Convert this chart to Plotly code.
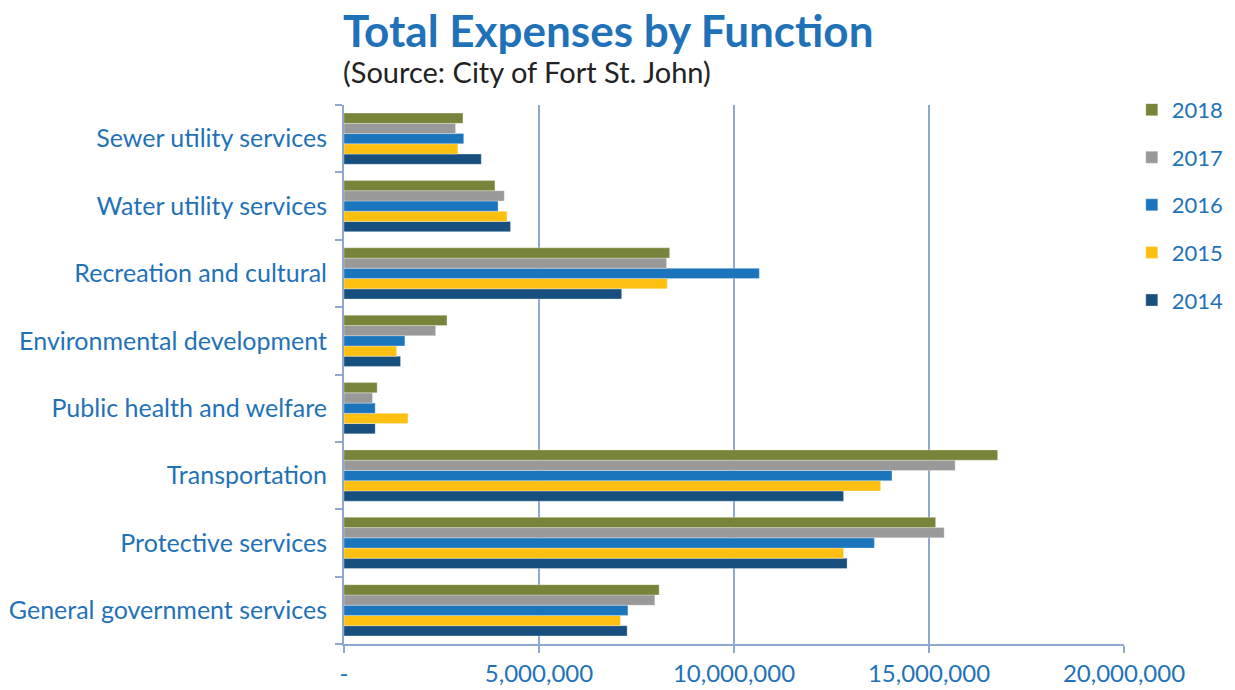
import plotly.graph_objects as go

categories = [
    "General government services",
    "Protective services",
    "Transportation",
    "Public health and welfare",
    "Environmental development",
    "Recreation and cultural",
    "Water utility services",
    "Sewer utility services",
]
years = ["2014", "2015", "2016", "2017", "2018"]
v2014 = [7.26e6, 12.90e6, 12.81e6, 0.80e6, 1.45e6, 7.12e6, 4.27e6, 3.52e6]
v2015 = [7.09e6, 12.81e6, 13.76e6, 1.64e6, 1.35e6, 8.29e6, 4.18e6, 2.92e6]
v2016 = [7.28e6, 13.60e6, 14.05e6, 0.80e6, 1.56e6, 10.65e6, 3.95e6, 3.07e6]
v2017 = [7.97e6, 15.39e6, 15.67e6, 0.73e6, 2.35e6, 8.27e6, 4.11e6, 2.86e6]
v2018 = [8.08e6, 15.17e6, 16.76e6, 0.85e6, 2.64e6, 8.35e6, 3.87e6, 3.05e6]
series = [v2014, v2015, v2016, v2017, v2018]
colors = ["#17507E", "#FDC010", "#1B75BC", "#999999", "#77843A"]

tick_vals = [0, 5e6, 10e6, 15e6, 20e6]
tick_text = ["-", "5,000,000", "10,000,000", "15,000,000", "20,000,000"]

FONT = "Lato"
BLUE = "#1F72B8"
GRID = "#8FA8D2"

fig = go.Figure()
for i, (yr, vals, col) in enumerate(zip(years, series, colors)):
    fig.add_trace(go.Bar(
        y=categories, x=vals, name=yr, orientation="h",
        marker=dict(color=col, line=dict(color="rgba(255,255,255,0.5)", width=0.6)),
        legendgroup=yr, legendrank=len(years) - i,
    ))

# the page body has an 8px default margin, so the figure is offset by 8px
fig.update_layout(
    width=1219, height=682,
    margin=dict(l=336, r=103, t=97, b=46, autoexpand=False),
    paper_bgcolor="white", plot_bgcolor="white",
    barmode="group", bargap=0.24, bargroupgap=0,
    font=dict(family=FONT, color=BLUE, size=23),
    showlegend=True,
    legend=dict(
        x=1.010, xanchor="left", y=1.03, yanchor="top",
        traceorder="grouped", tracegroupgap=16,
        font=dict(size=22, color=BLUE, family=FONT),
        itemwidth=30,
    ),
)
fig.update_xaxes(
    range=[0, 20e6], tickvals=tick_vals, ticktext=tick_text,
    showgrid=True, gridcolor=GRID, gridwidth=1.5,
    showline=True, linecolor=GRID, linewidth=1.5,
    ticks="outside", ticklen=7, tickcolor=GRID, tickwidth=1.5,
    tickfont=dict(size=24, color=BLUE, family=FONT),
    zeroline=False, automargin=False,
)
fig.update_yaxes(
    categoryorder="array", categoryarray=categories,
    showline=True, linecolor=GRID, linewidth=2,
    ticks="outside", ticklen=7, tickcolor=GRID, tickwidth=1.5,
    tickson="boundaries", ticklabelstandoff=10,
    tickfont=dict(size=25, color=BLUE, family=FONT),
    showgrid=False, automargin=False,
)
fig.add_annotation(
    text="<b>Total Expenses by Function</b>", xref="paper", yref="paper",
    x=0, y=1, xanchor="left", yanchor="bottom", yshift=49, xshift=-3, showarrow=False,
    height=48, valign="middle",
    font=dict(size=44, color=BLUE, family=FONT),
)
fig.add_annotation(
    text="(Source: City of Fort St. John)", xref="paper", yref="paper",
    x=0, y=1, xanchor="left", yanchor="bottom", yshift=14, xshift=-3, showarrow=False,
    font=dict(size=29, color="#222222", family=FONT),
)
fig.write_html("out.html")
